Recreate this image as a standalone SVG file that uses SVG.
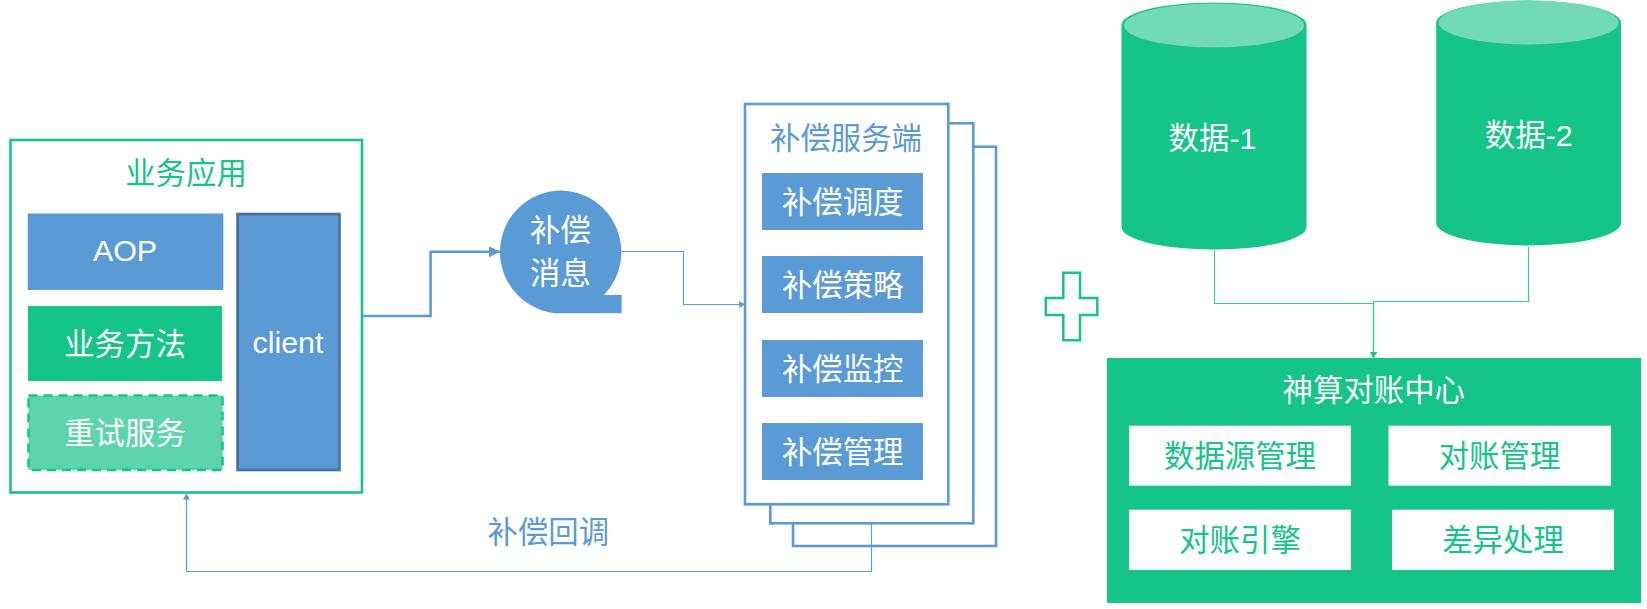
<svg xmlns="http://www.w3.org/2000/svg" width="1647" height="609" viewBox="0 0 1647 609">
<style>
text{font-family:"Liberation Sans","Noto Sans CJK SC",sans-serif;font-size:30.4px;text-anchor:middle;font-weight:400}
.w{fill:#fff}.b{fill:#5B9BD5}.g{fill:#15C487}
.bf{fill:#5B9BD5}.gf{fill:#15C487}
.sb{fill:#fff;stroke:#5B9BD5;stroke-width:2.6}
.lb{fill:none;stroke:#5B9BD5;stroke-width:1.2}
.lg{fill:none;stroke:#3CC998;stroke-width:1.2}
.top{fill:#72DBB6}
</style>
<defs>
<marker id="ab" markerUnits="userSpaceOnUse" markerWidth="7" markerHeight="7" refX="6" refY="3.500" orient="auto"><path d="M0 0L6 3.500L0 7Z" fill="#5B9BD5"/></marker>
<marker id="ag" markerUnits="userSpaceOnUse" markerWidth="7" markerHeight="7" refX="6" refY="3.500" orient="auto"><path d="M0 0L6 3.500L0 7Z" fill="#15C487"/></marker>
<marker id="abl" markerUnits="userSpaceOnUse" markerWidth="11" markerHeight="11" refX="11" refY="5.500" orient="auto"><path d="M0 0L11 5.500L0 11Z" fill="#5B9BD5"/></marker>
</defs>
<rect width="1647" height="609" fill="#fff"/>
<g id="app">
<rect x="10.500" y="140" width="351.500" height="352.500" fill="#fff" stroke="#15C487" stroke-width="2.600"/>
<text x="186" y="184" class="g">业务应用</text>
</g>
<g id="aop"><rect x="27.700" y="213.500" width="195.600" height="76.500" class="bf"/><text x="125" y="260.500" class="w">AOP</text></g>
<g id="method"><rect x="28" y="306" width="194" height="75" class="gf"/><text x="125" y="355" class="w">业务方法</text></g>
<g id="retry"><rect x="28.500" y="395.500" width="194" height="74.500" fill="#5DD4A9" stroke="#15C487" stroke-width="2.500" stroke-dasharray="9 6"/><text x="125" y="444" class="w">重试服务</text></g>
<g id="client"><rect x="237.500" y="214" width="102" height="256" fill="#5B9BD5" stroke="#47709A" stroke-width="2.600"/><text x="288" y="353" class="w">client</text></g>
<g id="msg">
<path d="M561 190.500A61 61.500 0 0 1 604 295H621.600V313.300H561A61 61.400 0 0 1 561 190.500Z" class="bf"/>
<text x="560.500" y="241" class="w">补偿</text>
<text x="560.500" y="284" class="w">消息</text>
</g>
<g id="server">
<rect x="793" y="146.700" width="203" height="399.300" class="sb"/>
<rect x="770.300" y="123.300" width="203" height="400" class="sb"/>
<rect x="745" y="104" width="203.300" height="400.300" class="sb"/>
<text x="846" y="149" class="b">补偿服务端</text>
</g>
<g id="s1"><rect x="762" y="173" width="161" height="57" class="bf"/><text x="842.700" y="213" class="w">补偿调度</text></g>
<g id="s2"><rect x="762" y="256" width="161" height="57" class="bf"/><text x="842.700" y="296" class="w">补偿策略</text></g>
<g id="s3"><rect x="762" y="340" width="161" height="57" class="bf"/><text x="842.700" y="379.500" class="w">补偿监控</text></g>
<g id="s4"><rect x="762" y="423" width="161" height="57" class="bf"/><text x="842.700" y="463" class="w">补偿管理</text></g>
<g id="plus"><path d="M1063.300 272.800H1080V298H1097.300V315H1080V340.300H1063.300V315H1045.800V298H1063.300Z" fill="#fff" stroke="#15C487" stroke-width="2.500"/></g>
<g id="db1">
<path d="M1121.500 25A92.500 22.500 0 0 1 1306.500 25V227A92.500 22.500 0 0 1 1121.500 227Z" class="gf"/>
<ellipse cx="1214" cy="25.500" rx="90" ry="22" class="top"/>
<text x="1212.500" y="149" class="w">数据-1</text>
</g>
<g id="db2">
<path d="M1436.200 22A92.500 22.500 0 0 1 1621 22V224A92.500 22.500 0 0 1 1436.200 224Z" class="gf"/>
<ellipse cx="1528.600" cy="22.500" rx="90" ry="22" class="top"/>
<text x="1528.700" y="146" class="w">数据-2</text>
</g>
<g id="center">
<rect x="1107" y="358" width="534" height="245" class="gf"/>
<text x="1373.800" y="400.500" class="w">神算对账中心</text>
</g>
<g id="c1"><rect x="1129" y="425.700" width="222" height="60" fill="#fff"/><text x="1240" y="467" class="g">数据源管理</text></g>
<g id="c2"><rect x="1388.500" y="425.700" width="222.500" height="60" fill="#fff"/><text x="1499.500" y="467" class="g">对账管理</text></g>
<g id="c3"><rect x="1129" y="509.700" width="222" height="60.300" fill="#fff"/><text x="1240" y="551" class="g">对账引擎</text></g>
<g id="c4"><rect x="1392" y="509.700" width="222" height="60.300" fill="#fff"/><text x="1503" y="551" class="g">差异处理</text></g>
<text x="548.300" y="543" class="b">补偿回调</text>
<g id="connectors">
<path d="M362 316H430.600V251.700H500" fill="none" stroke="#5B9BD5" stroke-width="2.500" marker-end="url(#abl)"/>
<path d="M621.600 251.500H683.500V304.500H745" class="lb" marker-end="url(#ab)"/>
<path d="M871.500 523.300V571.500H186.500V493.500" class="lb" marker-end="url(#ab)"/>
<path d="M1214.500 249.700V303.500H1373.500V358" class="lg" marker-end="url(#ag)"/>
<path d="M1528.500 246.700V301.500H1373.500V358" class="lg" marker-end="url(#ag)"/>
</g>
</svg>
